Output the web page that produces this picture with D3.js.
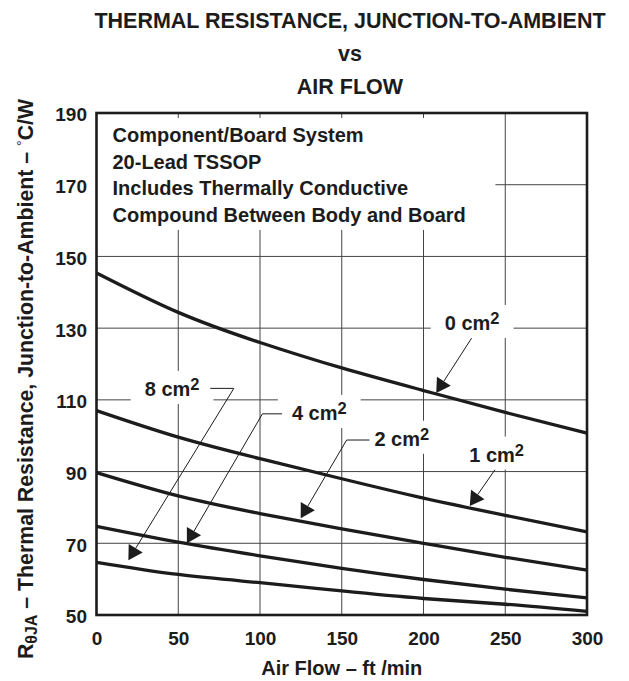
<!DOCTYPE html>
<html>
<head>
<meta charset="utf-8">
<script src="https://cdn.jsdelivr.net/npm/d3@7"></script>
<style>
  body { margin: 0; background: #fff; }
  svg text { font-family: "Liberation Sans", Arial, Helvetica, sans-serif; font-weight: bold; fill: #1c1c1c; }
</style>
</head>
<body>
<svg id="chart" width="629" height="681"></svg>
<script>
// Air flow (ft/min) sample points
const airFlow = [0, 50, 100, 150, 200, 250, 300];
// Thermal resistance (°C/W) for each copper area
const rth0cm = [145.4, 134.4, 126.0, 118.9, 112.6, 106.5, 100.7];
const rth1cm = [107.0, 99.6, 93.6, 88.0, 82.6, 77.8, 73.2];
const rth2cm = [89.7, 83.2, 78.3, 74.0, 70.0, 66.1, 62.5];
const rth4cm = [74.7, 70.3, 66.5, 63.0, 59.9, 57.2, 54.8];
const rth8cm = [64.7, 61.3, 59.0, 56.7, 54.6, 53.0, 51.0];

const xTicks = [0, 50, 100, 150, 200, 250, 300];
const yTicks = [50, 70, 90, 110, 130, 150, 170, 190];

const titleLines = ["THERMAL RESISTANCE, JUNCTION-TO-AMBIENT", "vs", "AIR FLOW"];
const noteLines = ["Component/Board System", "20-Lead TSSOP",
                   "Includes Thermally Conductive", "Compound Between Body and Board"];

// Callouts in data units: label text, label start (x, baseline), leader polyline ending at arrow tip
const calloutNames = ["0 cm", "1 cm", "2 cm", "4 cm", "8 cm"];
const calloutAnchor = [[213.0, 129.5], [228.0, 92.8], [170.0, 97.2], [119.5, 104.4], [29.5, 111.1]];
const calloutLeader = [
  [[229.4, 127.2], [207.8, 111.9]],
  [[243.7, 90.5], [228.3, 80.4]],
  [[167.0, 98.8], [153.0, 98.8], [124.9, 77.0]],
  [[113.5, 106.1], [101.5, 106.1], [55.3, 70.0]],
  [[69.6, 113.2], [84.0, 113.2], [19.5, 65.3]]
];
// region of the grid kept clear for the note block (x0, y0, x1, y1 in data units)
const noteClear = [0, 188.6, 244, 157.4];

const W = 629, H = 681;
const margin = { left: 96.5, right: 42, top: 113, bottom: 66 };
const x = d3.scaleLinear().domain([0, 300]).range([margin.left, W - margin.right]);
const y = d3.scaleLinear().domain([50, 190]).range([H - margin.bottom, margin.top]);

const svg = d3.select("#chart");
const ink = "#1c1c1c";

const gGrid = svg.append("g");
const gMask = svg.append("g");
const gCurves = svg.append("g");
const gFrame = svg.append("g");
const gText = svg.append("g");

// grid
gGrid.selectAll("line.v").data(xTicks.slice(1, -1)).join("line")
  .attr("x1", d => x(d)).attr("x2", d => x(d))
  .attr("y1", y(190)).attr("y2", y(50))
  .attr("stroke", "#444").attr("stroke-width", 1);
gGrid.selectAll("line.h").data(yTicks.slice(1, -1)).join("line")
  .attr("y1", d => y(d)).attr("y2", d => y(d))
  .attr("x1", x(0)).attr("x2", x(300))
  .attr("stroke", "#444").attr("stroke-width", 1);

// clear area behind the note block
gMask.append("rect")
  .attr("x", x(noteClear[0])).attr("y", y(noteClear[1]))
  .attr("width", x(noteClear[2]) - x(noteClear[0]))
  .attr("height", y(noteClear[3]) - y(noteClear[1]))
  .attr("fill", "#fff");

// curves
const seriesList = [rth0cm, rth1cm, rth2cm, rth4cm, rth8cm];
const line = d3.line().x((d, i) => x(airFlow[i])).y(d => y(d)).curve(d3.curveNatural);
gCurves.selectAll("path").data(seriesList).join("path")
  .attr("d", d => line(d))
  .attr("fill", "none").attr("stroke", ink).attr("stroke-width", 3.3);

// frame
gFrame.append("rect")
  .attr("x", x(0)).attr("y", y(190))
  .attr("width", x(300) - x(0)).attr("height", y(50) - y(190))
  .attr("fill", "none").attr("stroke", ink).attr("stroke-width", 2.6);

// axes
const xAxis = d3.axisBottom(x).tickValues(xTicks).tickSize(0).tickPadding(16.5);
const gx = svg.append("g").attr("transform", `translate(0,${y(50)})`).call(xAxis);
gx.select(".domain").remove();
gx.selectAll("text").style("font-size", "19px").attr("fill", ink);

const yAxis = d3.axisLeft(y).tickValues(yTicks).tickSize(0).tickPadding(9.5);
const gy = svg.append("g").attr("transform", `translate(${x(0)},0)`).call(yAxis);
gy.select(".domain").remove();
gy.selectAll("text").style("font-size", "19px").attr("fill", ink).attr("dy", "0.42em");

// title
const titleBase = [28, 61, 94];
gText.selectAll("text.title").data(titleLines).join("text")
  .attr("x", 350).attr("y", (d, i) => titleBase[i])
  .attr("text-anchor", "middle").style("font-size", "21.5px").text(d => d);

// note block
gText.selectAll("text.note").data(noteLines).join("text")
  .attr("x", 112.5).attr("y", (d, i) => 142 + i * 26.5)
  .style("font-size", "20px").text(d => d);

// axis titles
svg.append("text")
  .attr("x", (x(0) + x(300)) / 2).attr("y", 675)
  .attr("text-anchor", "middle").style("font-size", "20px")
  .text("Air Flow \u2013 ft /min");

const yl = svg.append("text")
  .attr("transform", "translate(33,379) rotate(-90)")
  .attr("text-anchor", "middle").style("font-size", "21.3px");
yl.append("tspan").text("R");
yl.append("tspan").attr("dy", 4).style("font-size", "16px").text("\u03B8JA");
yl.append("tspan").attr("dy", -4).text(" \u2013 Thermal Resistance, Junction-to-Ambient \u2013 ");
yl.append("tspan").attr("dy", -6).style("font-size", "14px").style("font-weight", "normal").text("\u00B0");
yl.append("tspan").attr("dy", 6).text("C/W");

// callouts
calloutNames.forEach((name, i) => {
  const [ax, ay] = calloutAnchor[i];
  const g = svg.append("g");
  const t = g.append("text").attr("x", x(ax)).attr("y", y(ay)).style("font-size", "20px");
  t.append("tspan").text(name);
  t.append("tspan").attr("dy", -6).style("font-size", "16.5px").text("2");
  const bb = t.node().getBBox();
  gMask.append("rect")
    .attr("x", bb.x - 14).attr("y", bb.y - 4)
    .attr("width", bb.width + 28).attr("height", bb.height + 8)
    .attr("fill", "#fff");

  const pts = calloutLeader[i].map(p => [x(p[0]), y(p[1])]);
  const tip = pts[pts.length - 1];
  const prev = pts[pts.length - 2];
  const ang = Math.atan2(tip[1] - prev[1], tip[0] - prev[0]);
  const len = 14, half = 8.2;
  const bx = tip[0] - len * Math.cos(ang), by = tip[1] - len * Math.sin(ang);
  const linePts = pts.slice(0, -1).concat([[bx, by]]);
  g.append("path").attr("d", d3.line()(linePts))
    .attr("fill", "none").attr("stroke", ink).attr("stroke-width", 1);
  const nx = -Math.sin(ang), ny = Math.cos(ang);
  g.append("path")
    .attr("d", d3.line()([tip, [bx + nx * half, by + ny * half], [bx - nx * half, by - ny * half]]) + "Z")
    .attr("fill", ink);
});
</script>
</body>
</html>
